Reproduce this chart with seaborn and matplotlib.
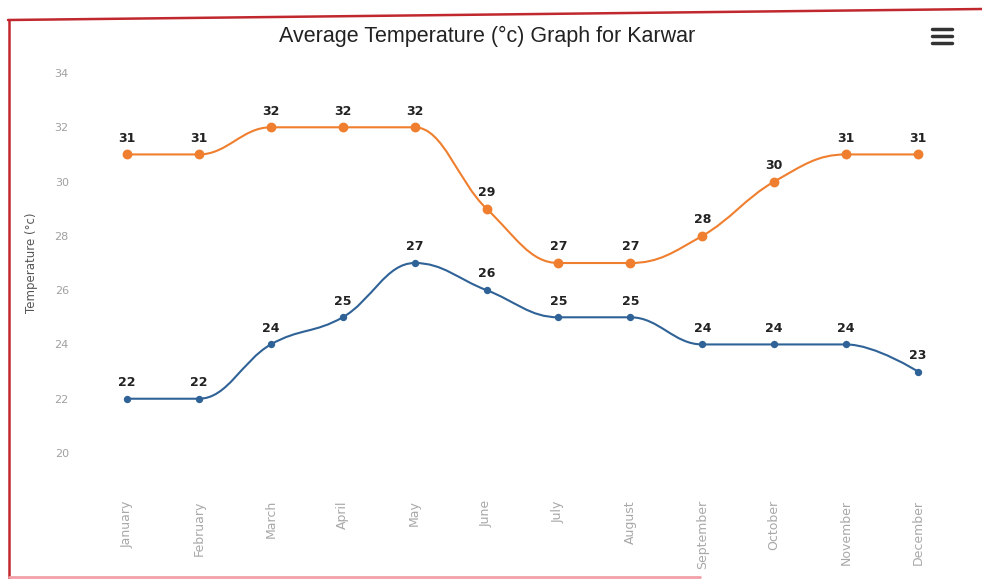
import numpy as np
import matplotlib
matplotlib.use("Agg")
import matplotlib.pyplot as plt
from matplotlib.path import Path
from matplotlib.patches import PathPatch
from matplotlib.lines import Line2D
import seaborn as sns

# Data
months = ["January", "February", "March", "April", "May", "June", "July",
          "August", "September", "October", "November", "December"]
temp_max = [31, 31, 32, 32, 32, 29, 27, 27, 28, 30, 31, 31]
temp_min = [22, 22, 24, 25, 27, 26, 25, 25, 24, 24, 24, 23]
y_ticks = [20, 22, 24, 26, 28, 30, 32, 34]

orange = "#ef7f2e"
blue = "#2f6296"

sns.set_style("white")
plt.rcParams['font.family'] = ['DejaVu Sans']

fig = plt.figure(figsize=(9.82, 5.79), dpi=100, facecolor='w')
ax = fig.add_axes([0.0927, 0.2176, 0.8788, 0.6563])


def spline_path(xs, ys):
    # highcharts-style spline: cubic bezier through each point
    n = len(xs)
    left = [None] * n
    right = [None] * n
    sm, den = 1.5, 2.5
    for i in range(1, n - 1):
        px, py = xs[i], ys[i]
        lx, ly = xs[i - 1], ys[i - 1]
        nx, ny = xs[i + 1], ys[i + 1]
        lcx = (sm * px + lx) / den
        lcy = (sm * py + ly) / den
        rcx = (sm * px + nx) / den
        rcy = (sm * py + ny) / den
        corr = 0
        if rcx != lcx:
            corr = ((rcy - lcy) * (rcx - px)) / (rcx - lcx) + py - rcy
        lcy += corr
        rcy += corr
        if lcy > ly and lcy > py:
            lcy = max(ly, py)
            rcy = 2 * py - lcy
        elif lcy < ly and lcy < py:
            lcy = min(ly, py)
            rcy = 2 * py - lcy
        if rcy > ny and rcy > py:
            rcy = max(ny, py)
            lcy = 2 * py - rcy
        elif rcy < ny and rcy < py:
            rcy = min(ny, py)
            lcy = 2 * py - rcy
        left[i] = (lcx, lcy)
        right[i] = (rcx, rcy)
    verts = [(xs[0], ys[0])]
    codes = [Path.MOVETO]
    for i in range(1, n):
        c1 = right[i - 1] if right[i - 1] else (xs[i - 1], ys[i - 1])
        c2 = left[i] if left[i] else (xs[i], ys[i])
        verts += [c1, c2, (xs[i], ys[i])]
        codes += [Path.CURVE4] * 3
    return Path(verts, codes)


x = np.arange(len(months))
for vals, col, size in [(temp_max, orange, 50), (temp_min, blue, 28)]:
    ax.add_patch(PathPatch(spline_path(x, vals), facecolor='none',
                           edgecolor=col, lw=1.5, zorder=2))
    sns.scatterplot(x=x, y=vals, color=col, s=size, edgecolor=col,
                    linewidth=0, ax=ax, zorder=3)
    for xi, v in zip(x, vals):
        ax.annotate(str(v), (xi, v), xytext=(0, 7), textcoords='offset points',
                    ha='center', va='bottom', fontsize=9, fontweight='bold',
                    color='#222222')

ax.set_xlim(-0.5, len(months) - 0.5)
ax.set_ylim(20, 34)
ax.set_yticks(y_ticks)
ax.set_xticks(x)
ax.set_xticklabels(months, rotation=90, fontsize=9, color='#a8a8a8', va='top')
ax.set_yticklabels([str(t) for t in y_ticks], fontsize=8, color='#a0a0a0')
ax.tick_params(axis='x', length=0, pad=34)
ax.tick_params(axis='y', length=0, pad=16)
ax.set_ylabel("Temperature (°c)", fontsize=8.5, color='#555555', labelpad=12)
for s in ax.spines.values():
    s.set_visible(False)
ax.grid(False)

fig.text(0.496, 0.937, "Average Temperature (°c) Graph for Karwar",
         ha='center', va='center', fontsize=15.5, color='#222222',
         family=['Liberation Sans', 'DejaVu Sans'])

# menu icon
for dy in (0, 7, 14):
    fig.add_artist(Line2D([932 / 982, 952 / 982],
                          [1 - (29 + dy) / 579, 1 - (29 + dy) / 579],
                          color='#333333', lw=2.5))

# red frame from the screenshot
fig.add_artist(Line2D([8 / 982, 1.0], [1 - 20 / 579, 1 - 9 / 579],
                      color='#c0282d', lw=1.8))
fig.add_artist(Line2D([9 / 982, 9 / 982], [1 - 20 / 579, 0],
                      color='#c0282d', lw=1.8))
fig.add_artist(Line2D([9 / 982, 700 / 982], [2 / 579, 2 / 579],
                      color='#f2a0a8', lw=2))

fig.savefig("out.png", dpi=100, facecolor='w')
